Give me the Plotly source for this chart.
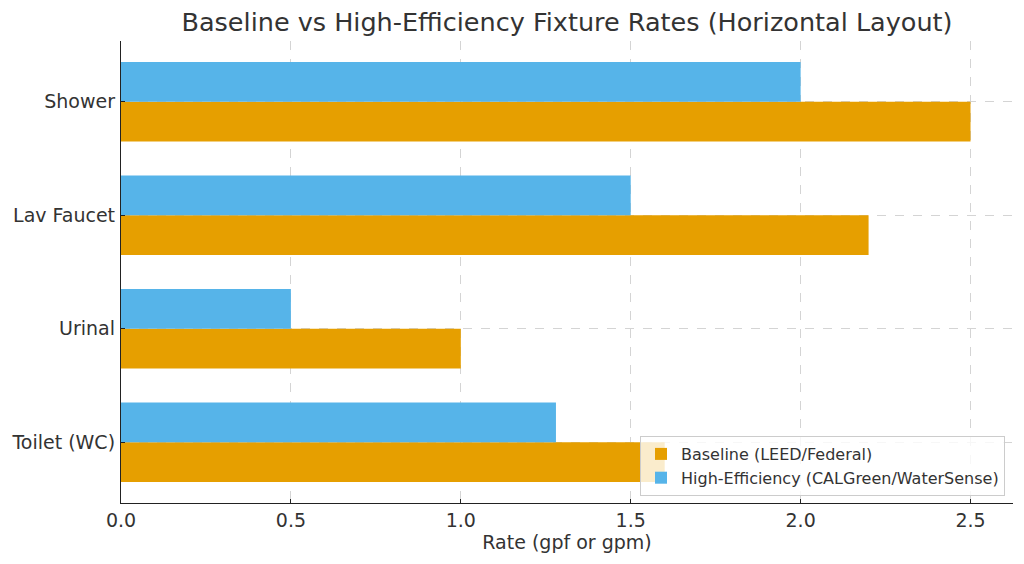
import plotly.graph_objects as go

categories = ["Toilet (WC)", "Urinal", "Lav Faucet", "Shower"]
baseline = [1.6, 1.0, 2.2, 2.5]
high_eff = [1.28, 0.5, 1.5, 2.0]
x_ticks = [0.0, 0.5, 1.0, 1.5, 2.0, 2.5]
x_tick_labels = ["0.0", "0.5", "1.0", "1.5", "2.0", "2.5"]

FONT = "DejaVu Sans"
TXT = "#333333"

# page body has an 8px margin; figure is sized to fit the 1024x564 window
W, H = 1016, 548
OFF = 8

fig = go.Figure()
fig.add_trace(go.Bar(y=categories, x=baseline, orientation="h",
                     name="Baseline (LEED/Federal)", marker=dict(color="#E69F00", line=dict(width=0))))
fig.add_trace(go.Bar(y=categories, x=high_eff, orientation="h",
                     name="High-Efficiency (CALGreen/WaterSense)", marker=dict(color="#56B4E9", line=dict(width=0))))

fig.update_layout(
    width=W, height=H,
    margin=dict(l=121 - OFF, r=W - (1013 - OFF), t=41 - OFF, b=H - (503 - OFF), autoexpand=False),
    paper_bgcolor="white", plot_bgcolor="white",
    barmode="group", bargap=0.3, bargroupgap=0,
    font=dict(family=FONT, size=19, color=TXT),
    title=dict(text="Baseline vs High-Efficiency Fixture Rates (Horizontal Layout)",
               x=(567 - OFF) / W, xanchor="center", y=1 - (22 - OFF) / H, yanchor="middle",
               font=dict(family=FONT, size=25.5, color=TXT)),
    xaxis=dict(range=[0, 2.625], tickvals=x_ticks, ticktext=x_tick_labels,
               showgrid=True, gridcolor="#d4d4d4", griddash="dash", gridwidth=1,
               showline=True, linecolor="#222222", linewidth=1.3, mirror=False,
               ticks="inside", ticklen=4, tickcolor="#222222", ticklabelstandoff=0,
               zeroline=False, automargin=False, layer="above traces",
               title=dict(text="Rate (gpf or gpm)", font=dict(size=19, color=TXT), standoff=2)),
    yaxis=dict(categoryorder="array", categoryarray=categories, range=[-0.535, 3.535],
               showgrid=True, gridcolor="#d4d4d4", griddash="dash", gridwidth=1,
               showline=True, linecolor="#222222", linewidth=1.3, automargin=False,
               ticks="inside", ticklen=4, tickcolor="#222222", ticklabelstandoff=1, zeroline=False),
    legend=dict(x=(1005 - 121) / (1013 - 121), xanchor="right", y=(503 - 496) / (503 - 41), yanchor="bottom",
                bgcolor="rgba(255,255,255,0.8)", bordercolor="#cccccc", borderwidth=1,
                font=dict(size=16, color=TXT), traceorder="normal"),
)

fig.write_html("out.html")
